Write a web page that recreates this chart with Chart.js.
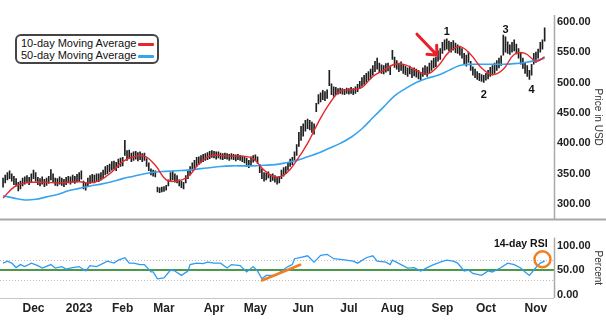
<!DOCTYPE html>
<html>
<head>
<meta charset="utf-8">
<script src="https://cdn.jsdelivr.net/npm/chart.js@4.4.0/dist/chart.umd.min.js"></script>
<style>
  html, body { margin: 0; padding: 0; background: #fff; }
  #wrap { position: relative; width: 606px; height: 328px; overflow: hidden; font-family: "Liberation Sans", Arial, sans-serif; }
  #priceBox { position: absolute; left: 0; top: 0; width: 606px; height: 229px; }
  #rsiBox { position: absolute; left: 0; top: 228px; width: 606px; height: 100px; }
  .legend { position: absolute; left: 15px; top: 34px; width: 136px; height: 25px; padding: 1px 0 0 4px;
            border: 2px solid #444; border-radius: 6px; background: #fff;
            font-size: 11px; line-height: 12px; color: #111; white-space: nowrap; }
  .legend .swatch { display: inline-block; width: 16px; height: 3px; margin-left: 2px; vertical-align: middle; border-radius: 1px; }
</style>
</head>
<body>
<div id="wrap">
  <div id="priceBox"><canvas id="priceChart"></canvas></div>
  <div id="rsiBox"><canvas id="rsiChart"></canvas></div>
  <div class="legend">
    <div>10-day Moving Average<span class="swatch" style="background:#e8262b"></span></div>
    <div>50-day Moving Average<span class="swatch" style="background:#36a5ef"></span></div>
  </div>
</div>
<script>
// ---- trading days: 0 = 10 Nov 2022 ... 249 = 9 Nov 2023 ----
const monthDays  = [14, 35, 55, 74, 97, 116, 138, 159, 179, 202, 222, 245];
const monthNames = ["Dec", "2023", "Feb", "Mar", "Apr", "May", "Jun", "Jul", "Aug", "Sep", "Oct", "Nov"];

// daily low / high (USD)
const lows = [
  328,335,340,342,338,332,330,322,325,330,
  333,335,332,336,342,338,332,330,333,329,
  331,334,340,336,331,330,333,331,329,332,
  335,333,336,334,336,338,341,325,323,330,
  334,337,335,338,337,340,343,348,350,353,
  356,358,355,360,362,363,380,372,375,370,
  372,374,371,373,370,372,362,355,348,346,
  345,320,319,320,321,323,330,338,340,336,
  335,330,327,325,335,342,348,355,358,362,
  365,368,370,372,373,375,377,376,374,376,
  374,373,375,374,372,374,373,371,373,372,
  370,368,362,360,365,369,371,367,352,342,
  338,340,343,337,339,336,333,335,342,346,
  350,356,362,365,372,380,395,405,412,420,
  424,422,418,415,452,465,468,472,470,474,
  495,480,477,480,481,482,481,480,482,481,
  482,480,482,485,490,494,497,500,504,506,
  512,518,522,516,515,514,517,519,513,538,
  525,522,518,520,515,513,510,514,508,511,
  509,506,504,510,513,510,516,520,524,526,
  535,538,548,553,555,552,550,553,549,548,
  545,540,530,527,533,520,512,508,505,503,
  502,500,504,506,510,512,515,520,524,528,
  545,550,548,546,550,552,547,540,530,523,
  515,510,505,512,530,533,540,550,555,568
];
const highs = [
  343,348,352,355,350,346,342,336,338,343,
  345,347,344,350,356,352,344,342,345,341,
  343,346,357,350,343,342,345,343,341,344,
  346,345,348,346,349,352,355,338,335,343,
  347,349,348,350,350,352,356,362,364,366,
  370,371,369,374,376,377,405,388,389,384,
  386,387,385,386,383,384,375,368,358,356,
  355,328,327,328,329,331,340,352,354,350,
  347,340,338,336,347,356,362,368,372,377,
  378,380,382,383,385,387,388,387,386,386,
  384,383,384,383,382,383,382,381,382,380,
  379,378,376,372,378,380,381,378,365,358,
  352,351,353,349,350,347,344,346,356,360,
  362,368,374,377,386,398,418,428,432,438,
  440,438,435,432,466,480,483,487,485,488,
  520,498,493,492,490,491,490,489,491,490,
  492,490,493,497,502,508,512,515,518,522,
  528,535,540,532,529,528,531,532,527,553,
  542,536,532,534,530,527,524,527,522,524,
  522,520,516,524,528,526,532,536,540,542,
  552,556,566,570,572,568,566,569,565,562,
  560,556,548,545,550,535,526,522,518,515,
  513,512,515,520,525,528,532,536,540,544,
  578,575,567,562,566,570,563,556,548,540,
  533,528,520,530,548,550,555,566,570,590
];

// moving averages, sampled every 5 trading days
const maDays = [0,5,10,15,20,25,30,35,40,45,50,55,60,65,70,75,80,85,90,95,100,105,110,115,120,125,
                130,135,140,145,150,155,160,165,170,175,180,185,190,195,200,205,210,215,220,225,230,235,240,245,249];
const ma10 = [310,328,335,336,336,335,336,337,335,340,353,370,378,379,364,340,338,345,366,379,380,379,379,375,356,345,
              350,372,400,435,465,486,488,492,510,520,530,529,520,514,527,550,559,546,524,513,522,546,548,535,542];
const ma50 = [314,310,307,308,312,316,322,326,330,333,337,342,346,350,353,354,355,356,358,360,362,363,363,363,364,365,
              368,372,378,384,392,400,410,424,442,460,478,490,500,507,512,520,528,530,530,530,530,531,533,536,540];

// 14-day RSI
const rsiDays = [0,2,4,6,8,10,13,16,18,22,24,27,29,32,35,38,40,43,48,51,53,56,58,60,63,65,68,69,71,74,
                 77,79,82,85,86,89,92,94,97,100,103,105,109,112,115,117,119,121,124,126,128,131,133,134,137,140,143,146,149,152,
                 156,161,163,167,170,172,176,178,179,183,186,189,192,195,198,201,204,207,209,212,214,216,220,223,225,229,232,235,238,240,
                 242,245,247,249];
const rsiValues = [64,68,64,55,61,57,64,59,54,61,54,57,52,55,57,48,59,57,68,64,70,75,64,64,61,61,46,46,32,34,
                   50,48,39,48,61,64,63,66,64,64,54,61,59,46,57,48,32,39,39,41,48,57,61,73,76,79,66,80,82,73,
                   71,68,64,75,79,68,66,61,70,61,54,55,48,55,61,66,70,68,64,48,50,43,39,48,46,55,64,61,54,46,
                   39,55,64,68];

const priceTicks = [300, 350, 400, 450, 500, 550, 600];
const rsiTicks = [0, 50, 100];
const rsiDotted = [30, 70];
const rsiMid = 50;

// callouts, in (trading day, value) units
const waveMarks = [["1", 204, 583], ["2", 221, 480], ["3", 231, 586], ["4", 243, 488]];
const arrowFrom = [190.3, 579.5];
const arrowTo = [199.5, 545];
const rsiTrend = [[119, 28.6], [136.6, 60.7]];
const rsiRing = [248, 72];

const xMin = -1.4, xMax = 253.3;

Chart.defaults.font.family = '"Liberation Sans", Arial, sans-serif';

// axis lines around each panel
const frame = {
  id: "frame",
  afterDraw(chart, args, opts) {
    const { ctx, chartArea: a } = chart;
    ctx.save();
    ctx.strokeStyle = "#a8a8a8";
    ctx.lineWidth = 1.5;
    ctx.beginPath();
    ctx.moveTo(a.right + 0.5, a.top);
    ctx.lineTo(a.right + 0.5, a.bottom + (opts.extend || 0));
    ctx.stroke();
    if (opts.bottomFull) {
      ctx.lineWidth = 2;
      ctx.beginPath();
      ctx.moveTo(0, a.bottom);
      ctx.lineTo(chart.width, a.bottom);
      ctx.stroke();
    }
    if (opts.bottomPlot) {
      ctx.strokeStyle = "#c8c8c8";
      ctx.lineWidth = 1;
      ctx.beginPath();
      ctx.moveTo(a.left, a.bottom + 0.5);
      ctx.lineTo(a.right, a.bottom + 0.5);
      ctx.stroke();
    }
    ctx.restore();
  }
};

// arrow and wave numbers on the price panel
const priceNotes = {
  id: "priceNotes",
  afterDatasetsDraw(chart) {
    const { ctx, scales: { x, y } } = chart;
    ctx.save();
    const x0 = x.getPixelForValue(arrowFrom[0]), y0 = y.getPixelForValue(arrowFrom[1]);
    const x1 = x.getPixelForValue(arrowTo[0]), y1 = y.getPixelForValue(arrowTo[1]);
    const ang = Math.atan2(y0 - y1, x0 - x1);
    ctx.strokeStyle = "#e8202a";
    ctx.lineWidth = 3;
    ctx.lineCap = "round";
    ctx.beginPath();
    ctx.moveTo(x0, y0);
    ctx.lineTo(x1, y1);
    ctx.moveTo(x1 + 10 * Math.cos(ang + 0.73), y1 + 10 * Math.sin(ang + 0.73));
    ctx.lineTo(x1, y1);
    ctx.lineTo(x1 + 10 * Math.cos(ang - 0.73), y1 + 10 * Math.sin(ang - 0.73));
    ctx.stroke();

    ctx.fillStyle = "#111";
    ctx.font = 'bold 11px "Liberation Sans", Arial, sans-serif';
    ctx.textAlign = "center";
    ctx.textBaseline = "middle";
    waveMarks.forEach(([t, d, v]) => ctx.fillText(t, x.getPixelForValue(d), y.getPixelForValue(v)));
    ctx.restore();
  }
};

// dotted guides, label, trend line and ring on the RSI panel
const rsiNotes = {
  id: "rsiNotes",
  beforeDatasetsDraw(chart) {
    const { ctx, chartArea: a, scales: { y } } = chart;
    ctx.save();
    ctx.strokeStyle = "#bdbdbd";
    ctx.lineWidth = 1;
    ctx.setLineDash([1, 2]);
    rsiDotted.forEach(v => {
      const py = Math.round(y.getPixelForValue(v)) + 0.5;
      ctx.beginPath();
      ctx.moveTo(a.left, py);
      ctx.lineTo(a.right, py);
      ctx.stroke();
    });
    ctx.restore();
  },
  afterDatasetsDraw(chart) {
    const { ctx, scales: { x, y } } = chart;
    ctx.save();
    ctx.strokeStyle = "#f27e22";
    ctx.lineWidth = 2.5;
    ctx.lineCap = "round";
    ctx.beginPath();
    ctx.moveTo(x.getPixelForValue(rsiTrend[0][0]), y.getPixelForValue(rsiTrend[0][1]));
    ctx.lineTo(x.getPixelForValue(rsiTrend[1][0]), y.getPixelForValue(rsiTrend[1][1]));
    ctx.stroke();
    ctx.beginPath();
    ctx.arc(x.getPixelForValue(rsiRing[0]), y.getPixelForValue(rsiRing[1]), 8, 0, Math.PI * 2);
    ctx.stroke();

    ctx.fillStyle = "#111";
    ctx.font = 'bold 10.5px "Liberation Sans", Arial, sans-serif';
    ctx.textAlign = "center";
    ctx.textBaseline = "middle";
    ctx.fillText("14-day RSI", x.getPixelForValue(238), y.getPixelForValue(103.6));
    ctx.restore();
  }
};

new Chart(document.getElementById("priceChart"), {
  data: {
    datasets: [
      {
        type: "line",
        data: maDays.map((d, k) => ({ x: d, y: ma10[k] })),
        borderColor: "#e8262b",
        borderWidth: 1.4,
        pointRadius: 0,
        tension: 0.4,
        order: 1
      },
      {
        type: "line",
        data: maDays.map((d, k) => ({ x: d, y: ma50[k] })),
        borderColor: "#36a5ef",
        borderWidth: 1.6,
        pointRadius: 0,
        tension: 0.4,
        order: 1
      },
      {
        type: "bar",
        data: lows.map((lo, i) => ({ x: i, y: [lo, highs[i]] })),
        backgroundColor: "#1f1f1f",
        barThickness: 1,
        grouped: false,
        order: 2
      }
    ]
  },
  options: {
    responsive: true,
    maintainAspectRatio: false,
    animation: false,
    layout: { padding: { top: 15, bottom: 1, left: 0, right: 0 } },
    plugins: { legend: { display: false }, tooltip: { enabled: false }, frame: { bottomFull: true } },
    scales: {
      x: { type: "linear", min: xMin, max: xMax, offset: false, display: false },
      y: {
        position: "right",
        min: 275,
        max: 611,
        grid: { display: false, drawTicks: false },
        border: { display: false },
        afterFit: s => { s.width = 52; },
        afterBuildTicks: s => { s.ticks = priceTicks.map(v => ({ value: v })); },
        ticks: { padding: 3, color: "#222", font: { size: 11, weight: "bold" }, callback: v => v.toFixed(2) },
        title: { display: true, text: "Price in USD", color: "#333", font: { size: 10 }, padding: { top: 2, bottom: 0 } }
      }
    }
  },
  plugins: [frame, priceNotes]
});

new Chart(document.getElementById("rsiChart"), {
  type: "line",
  data: {
    datasets: [
      {
        data: [{ x: xMin, y: rsiMid }, { x: xMax, y: rsiMid }],
        borderColor: "#4a9a4a",
        borderWidth: 2,
        pointRadius: 0,
        order: 2
      },
      {
        data: rsiDays.map((d, k) => ({ x: d, y: rsiValues[k] })),
        borderColor: "#2f9bf0",
        borderWidth: 1.3,
        pointRadius: 0,
        tension: 0,
        order: 1
      }
    ]
  },
  options: {
    responsive: true,
    maintainAspectRatio: false,
    animation: false,
    layout: { padding: { top: 1, bottom: 0, left: 0, right: 0 } },
    plugins: { legend: { display: false }, tooltip: { enabled: false }, frame: { bottomPlot: true } },
    scales: {
      x: {
        type: "linear",
        min: xMin,
        max: xMax,
        grid: { display: false, drawTicks: false },
        border: { display: false },
        afterFit: s => { s.height = 30; },
        afterBuildTicks: s => { s.ticks = monthDays.map(v => ({ value: v })); },
        ticks: { padding: 3, autoSkip: false, maxRotation: 0, color: "#222", font: { size: 12, weight: "bold" },
                 callback: (v, i) => monthNames[i] }
      },
      y: {
        position: "right",
        min: -7.1,
        max: 116.1,
        grid: { display: false, drawTicks: false },
        border: { display: false },
        afterFit: s => { s.width = 52; },
        afterBuildTicks: s => { s.ticks = rsiTicks.map(v => ({ value: v })); },
        ticks: { padding: 3, color: "#222", font: { size: 11, weight: "bold" }, callback: v => v.toFixed(2) },
        title: { display: true, text: "Percent", color: "#333", font: { size: 10 }, padding: { top: 2, bottom: 0 } }
      }
    }
  },
  plugins: [frame, rsiNotes]
});
</script>
</body>
</html>
